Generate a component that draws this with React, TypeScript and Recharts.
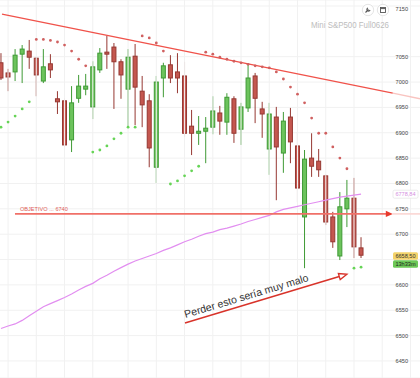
import React from 'react';
import { ComposedChart, Bar, Line, Scatter, XAxis, YAxis, CartesianGrid, ReferenceLine } from 'recharts';

// ---- data ----
const opens = [7038,7018,7020,7055,7061,7047,7002,7036,6967,6963,6886,6968,6986,6951,7024,7059,7069,7040,6986,7051,6982,6963,6832,7008,7034,7020,7012,6913,6899,6903,6911,6939,6921,6967,6907,6949,7012,6947,6868,6931,6860,6931,6874,6734,6850,6844,6815,6734,6657,6750,6771,6673];
const highs = [7057,7026,7065,7073,7083,7049,7065,7055,6982,6968,6992,7014,7016,7041,7067,7091,7077,7045,7065,7075,7012,6976,7012,7038,7053,7057,7040,6945,6933,6931,6972,6953,6978,6972,6959,7034,7018,6961,6959,6951,6941,6949,6901,6866,6899,6868,6817,6744,6783,6807,6811,6694];
const lows = [7004,6982,7002,6998,7026,6972,6998,7008,6937,6872,6862,6959,6974,6927,7018,7026,6947,6967,6913,6915,6911,6832,6801,6970,6998,6978,6892,6856,6876,6840,6897,6896,6896,6880,6876,6941,6919,6890,6817,6767,6821,6840,6763,6633,6813,6813,6718,6673,6649,6714,6653,6653];
const closes = [7008,7010,7053,7065,7049,7014,7030,7024,6961,6876,6959,6992,6992,7030,7057,7055,7040,7014,7049,6990,6955,6870,7000,7032,7008,7008,6899,6899,6903,6909,6943,6923,6970,6899,6951,7008,6968,6937,6937,6872,6923,6882,6791,6848,6834,6827,6724,6685,6754,6771,6675,6658.5];
const maValues = [6514,6519,6523,6530,6539,6548,6557,6563,6569,6575,6582,6590,6597,6603,6612,6619,6627,6634,6641,6647,6652,6657,6662,6668,6673,6679,6685,6690,6696,6701,6704,6709,6712,6716,6720,6725,6729,6733,6737,6744,6749,6752,6755,6758,6761,6764,6767,6770,6773,6775,6777,6779];
const sarValues = [6911,6921,6933,6947,6961,7084,7084,7082,7079,7073,7061,7045,7032,6862,6866,6874,6888,6899,6911,6911,7091,7087,7077,7061,6799,6805,6815,6825,6834,7059,7055,7049,7045,7041,7038,7035,7032,7030,7028,7020,7006,6990,6976,6959,6929,6899,6899,6872,6850,6829,6633,6635];
const sarBelow = [1,1,1,1,1,0,0,0,0,0,0,0,0,1,1,1,1,1,1,1,0,0,0,0,1,1,1,1,1,0,0,0,0,0,0,0,0,0,0,0,0,0,0,0,0,0,0,0,0,0,1,1];
const yTicks = [6450,6500,6550,6600,6650,6700,6750,6800,6850,6900,6950,7000,7050,7100,7150];
const coveredTickLabels = [6650]; // hidden behind the last-price boxes in the reference
const gridX = [2,6,10,14,19,23,27,31,35,39,43,47,51,55,59];

const trendLine = [{ x: 1.14, y: 7134 }, { x: 56.5, y: 6978 }];
const trendExt = [{ x: 56.5, y: 6978 }, { x: 60.35, y: 6967 }];
const targetValue = 6740;
const targetSpan = [2.98, 56.5, 60.35];
const warnArrow = [{ x: 27.06, y: 6525 }, { x: 50, y: 6621 }];
const maLast = 6778.84;
const lastClose = 6658.5;
const timeLeft = '13h33m';
const title = 'Mini S&P500 Full0626';
const targetLabel = 'OBJETIVO ... 6740';
const warnText = 'Perder esto sería muy malo';

const X_DOMAIN = [0.858, 60.35];
const Y_DOMAIN = [6416.4, 7161.8];

const rows = opens.map((o, k) => ({
  i: k + 1, open: o, high: highs[k], low: lows[k], close: closes[k],
  range: [lows[k], highs[k]], ma: maValues[k],
}));
const sarGreen = sarValues.map((v, k) => ({ i: k + 1, v })).filter((_, k) => sarBelow[k] === 1);
const sarRed = sarValues.map((v, k) => ({ i: k + 1, v })).filter((_, k) => sarBelow[k] === 0);

const FONT = '"Liberation Sans", Arial, Helvetica, sans-serif';
const fmt = (v: number) => v.toFixed(2).replace('.', ',');

function CandleShape(props: any) {
  let { x, y, width, height, payload } = props;
  if (height < 0) { y += height; height = -height; }
  const { open, close, high, low } = payload;
  const up = close >= open;
  const k = height / (high - low || 1);
  const yOf = (v: number) => y + (high - v) * k;
  const top = yOf(Math.max(open, close));
  const bot = yOf(Math.min(open, close));
  const cx = x + width / 2;
  const fill = up ? '#6cc35c' : '#c4574f';
  const edge = up ? '#3f9a35' : '#963832';
  return (
    <g>
      <line x1={cx} x2={cx} y1={y} y2={y + height} stroke={edge} strokeWidth={1} />
      <rect x={x + 0.5} y={top} width={width - 1} height={Math.max(bot - top, 1)} fill={fill} stroke={edge} strokeWidth={1} />
    </g>
  );
}

function DotShape(props: any) {
  const { cx, cy, fill } = props;
  if (cx == null || cy == null) return <g />;
  return <circle cx={cx} cy={cy} r={1.4} fill={fill} />;
}

function AxisTick(props: any) {
  const { x, y, payload } = props;
  if (coveredTickLabels.includes(payload.value)) return <g />;
  return (
    <text x={x} y={y} dy={2} textAnchor="end" fontSize={5.6} fill="#444" fontFamily={FONT}>{payload.value}</text>
  );
}

function TargetShape(props: any) {
  const { x1, y1, x2 } = props;
  return (
    <g>
      <line x1={x1} y1={y1} x2={x2 - 6} y2={y1} stroke="#f07068" strokeWidth={1.6} />
      <polygon points={`${x2},${y1} ${x2 - 7},${y1 - 3.2} ${x2 - 7},${y1 + 3.2}`} fill="#e8392c" />
      <text x={x1 + 5} y={y1 - 3} fontSize={5.6} fill="#e06058" fontFamily={FONT}>{targetLabel}</text>
    </g>
  );
}

function WarnShape(props: any) {
  const { x1, y1, x2, y2 } = props;
  const deg = (Math.atan2(y2 - y1, x2 - x1) * 180) / Math.PI;
  const len = Math.hypot(x2 - x1, y2 - y1);
  return (
    <g transform={`translate(${x1},${y1}) rotate(${deg})`}>
      <line x1={0} y1={0} x2={len - 8} y2={0} stroke="#d8332a" strokeWidth={1.5} />
      <polygon points={`${len},0 ${len - 8},-3.2 ${len - 8},3.2`} fill="#fff" stroke="#d8332a" strokeWidth={1.3} />
      <text x={2} y={-4.5} fontSize={10.5} fill="#333" fontFamily={FONT}>{warnText}</text>
    </g>
  );
}

function MaLabelShape(props: any) {
  const { x1, x2, y1 } = props;
  const r = Math.max(x1, x2);
  return (
    <g>
      <rect x={r - 27} y={y1 - 4} width={25} height={8} rx={1.5} fill="#fff" stroke="#ddd" strokeWidth={0.6} />
      <text x={r - 14.5} y={y1 + 2} textAnchor="middle" fontSize={5.6} fill="#d48ee0" fontFamily={FONT}>{fmt(maLast)}</text>
    </g>
  );
}

function PriceLabelShape(props: any) {
  const { x1, x2, y1 } = props;
  const r = Math.max(x1, x2);
  return (
    <g>
      <rect x={r - 27} y={y1 - 3} width={25} height={7.5} rx={1.5} fill="#f3d36b" />
      <text x={r - 14.5} y={y1 + 2.8} textAnchor="middle" fontSize={5.6} fill="#333" fontFamily={FONT}>{fmt(lastClose)}</text>
      <rect x={r - 27} y={y1 + 5} width={25} height={7.5} rx={1.5} fill="#6cc857" />
      <text x={r - 14.5} y={y1 + 10.8} textAnchor="middle" fontSize={5.6} fill="#222" fontFamily={FONT}>{timeLeft}</text>
    </g>
  );
}

export default function App() {
  return (
    <div style={{ position: 'absolute', left: 0, top: 0, width: 420, height: 378, background: '#fff', fontFamily: FONT }}>
      <ComposedChart width={420} height={378} data={rows} margin={{ top: 0, right: 0, bottom: 0, left: 0 }}>
        <CartesianGrid vertical={false} stroke="#f1f1f1" />
        {gridX.map((g) => (
          <ReferenceLine key={g} x={g} stroke="#f1f1f1" ifOverflow="visible" />
        ))}
        <XAxis type="number" dataKey="i" domain={X_DOMAIN} hide allowDataOverflow />
        <YAxis orientation="right" mirror domain={Y_DOMAIN} ticks={yTicks} allowDataOverflow axisLine={false} tickLine={false} tickSize={0} tickMargin={12} tick={<AxisTick />} />
        <Line dataKey="ma" stroke="#e28ef0" strokeWidth={1.2} dot={false} activeDot={false} isAnimationActive={false} />
        <ReferenceLine segment={trendLine} stroke="#f0524a" strokeWidth={1.3} />
        <ReferenceLine segment={trendExt} stroke="#f9c4c0" strokeWidth={1.3} />
        <ReferenceLine segment={[{ x: targetSpan[1], y: targetValue }, { x: targetSpan[2], y: targetValue }]} stroke="#fbd6d3" strokeWidth={1.6} />
        <ReferenceLine segment={[{ x: targetSpan[0], y: targetValue }, { x: targetSpan[1], y: targetValue }]} shape={TargetShape} />
        <Bar dataKey="range" barSize={5} shape={CandleShape} isAnimationActive={false} />
        <Scatter data={sarRed} dataKey="v" fill="#d06060" shape={DotShape} isAnimationActive={false} />
        <Scatter data={sarGreen} dataKey="v" fill="#66d456" shape={DotShape} isAnimationActive={false} />
        <ReferenceLine segment={warnArrow} shape={WarnShape} />
        <ReferenceLine y={maLast} shape={MaLabelShape} />
        <ReferenceLine y={lastClose} shape={PriceLabelShape} />
      </ComposedChart>
      <svg width={420} height={378} style={{ position: 'absolute', left: 0, top: 0, pointerEvents: 'none' }}>
        <circle cx={368} cy={10} r={5.7} fill="#fff" stroke="#ddd" strokeWidth={0.8} />
        <path d="M365.5,12.5 L368.5,9.5 M368,8 a1.6,1.6 0 1 0 2,2" stroke="#555" strokeWidth={1.1} fill="none" />
        <circle cx={383} cy={10} r={5.7} fill="#fff" stroke="#ddd" strokeWidth={0.8} />
        <rect x={380.5} y={7.5} width={5} height={5} fill="none" stroke="#555" strokeWidth={0.9} />
        <line x1={380.5} y1={8.6} x2={385.5} y2={8.6} stroke="#555" strokeWidth={1} />
        <text x={311} y={28} textLength={78} lengthAdjust="spacingAndGlyphs" fontSize={9} fill="#bdbdbd" fontFamily={FONT}>{title}</text>
      </svg>
    </div>
  );
}
